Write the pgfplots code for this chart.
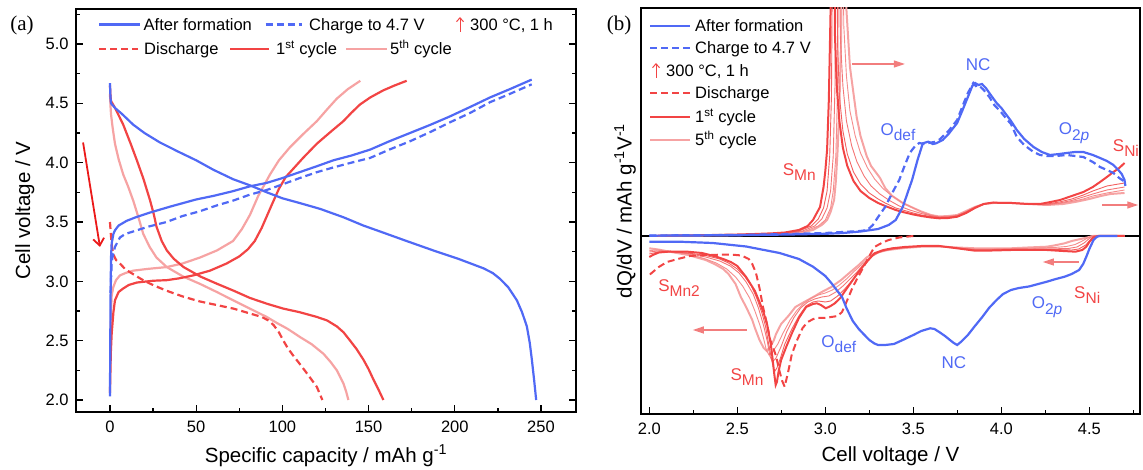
\documentclass[border=0pt]{standalone}
\usepackage{pgfplots}
\pgfplotsset{compat=1.18}
\usepackage{fontspec}
\setmainfont{Liberation Sans}
\newfontfamily\seriffont{Liberation Serif}
\usetikzlibrary{arrows.meta}
\definecolor{cblue}{RGB}{80,105,245}
\definecolor{cred}{RGB}{242,68,68}
\definecolor{cpink}{RGB}{246,163,163}
\definecolor{ctwo}{RGB}{243,96,96}
\definecolor{cthree}{RGB}{244,118,118}
\definecolor{cfour}{RGB}{245,140,140}
\definecolor{carrowa}{RGB}{235,25,25}
\definecolor{carrowb}{RGB}{242,125,125}
\newcommand{\lsub}[1]{\raisebox{-0.32em}{\fontsize{15.5}{16}\selectfont #1}}
\pgfplotsset{
  myaxis/.style={scale only axis, anchor=south west, clip mode=individual,
    tick align=inside, major tick length=7pt, minor tick length=4pt,
    axis line style={line width=1.3pt},
    tick style={black, line width=1.2pt},
    tick label style={font=\fontsize{16.5}{18}\selectfont},
    label style={font=\fontsize{20.5}{22}\selectfont},
    /pgf/number format/assume math mode=true,
    xticklabel style={yshift=-5.5pt},
    yticklabel style={xshift=-3.8pt},
  }
}
\begin{document}
\begin{tikzpicture}[x=1pt,y=1pt]
\useasboundingbox (0pt,0pt) rectangle (1143pt,470pt);
% ---------------- Panel (a) ----------------
\begin{axis}[myaxis, at={(76pt,58pt)}, width=500pt, height=403pt,
  xmin=-19.7, xmax=270.3, ymin=1.899, ymax=5.295,
  xtick={0,50,...,250}, minor xtick={25,75,...,275},
  ytick={2,2.5,...,5}, minor ytick={2.25,2.75,...,5.25},
  xtick pos=left, ytick pos=both,
  yticklabel style={/pgf/number format/.cd, fixed, fixed zerofill, precision=1},
  xlabel={Specific capacity / mAh g\textsuperscript{-1}},
  ylabel={Cell voltage / V},
  xlabel style={at={(axis description cs:0.5,-0.1241)}, anchor=base},
  ylabel style={at={(axis description cs:-0.092,0.5)}, anchor=base},
]
% 5th cycle (pink)
\addplot[cpink, line width=2.2pt] coordinates {(0.3,2.45) (0.6,2.75) (1.0,2.88) (1.9,2.95) (3.5,3.01) (5.8,3.05) (9,3.07) (13.5,3.09) (22,3.105) (32.8,3.12) (42,3.15) (52.1,3.20) (62,3.26) (71.4,3.34) (76.5,3.44) (81.2,3.56) (86,3.72) (92.8,3.90) (98,4.02) (104.4,4.13) (112,4.24) (120,4.35) (126,4.45) (131.6,4.54) (138,4.62) (145.2,4.69)};
\addplot[cpink, line width=2.2pt] coordinates {(0,4.58) (0.3,4.48) (0.6,4.41) (1.5,4.30) (2.9,4.16) (5,4.03) (7.7,3.90) (10.5,3.80) (13.5,3.68) (16.5,3.54) (19.3,3.40) (23,3.29) (27,3.20) (33,3.12) (42.5,3.04) (52,2.98) (62,2.91) (71.5,2.84) (81.2,2.77) (90.9,2.70) (96.7,2.65) (103,2.60) (110.3,2.53) (117,2.47) (123.8,2.39) (128,2.32) (131.6,2.25) (135.4,2.14) (137,2.07) (138.3,2.0)};
% 1st cycle (red)
\addplot[cred, line width=2.2pt] coordinates {(0,2.06) (0.5,2.4) (1,2.56) (2,2.74) (2.9,2.84) (5,2.91) (7.7,2.94) (11,2.97) (15.6,2.99) (25,3.005) (33,3.01) (40,3.025) (48.3,3.05) (58,3.09) (67.6,3.15) (75,3.21) (80,3.27) (84,3.34) (88,3.45) (91,3.55) (94,3.65) (98,3.78) (102,3.88) (106.4,3.95) (112,4.04) (120,4.16) (128,4.26) (135.4,4.35) (140,4.42) (145,4.49) (151,4.55) (158.6,4.61) (165,4.65) (172.1,4.69)};
\addplot[cred, line width=2.2pt] coordinates {(0,4.65) (0.3,4.56) (0.6,4.52) (3,4.46) (7.7,4.32) (12,4.16) (15.6,4.02) (19.5,3.86) (23.3,3.68) (25.5,3.56) (27,3.46) (30,3.34) (33,3.26) (37,3.19) (42.7,3.12) (52.5,3.04) (62,2.98) (71.9,2.92) (81.2,2.86) (91.3,2.81) (100.6,2.77) (110,2.74) (120,2.70) (126,2.67) (131.6,2.62) (135.5,2.57) (139.3,2.50) (143,2.43) (147,2.34) (150,2.26) (152.9,2.17) (156,2.08) (158.6,2.0)};
% Discharge (red dashed)
\addplot[cred, line width=2.2pt, dash pattern=on 7pt off 4pt] coordinates {(0,3.50) (0.5,3.40) (1.0,3.31) (1.9,3.23) (3.5,3.18) (5.8,3.15) (9,3.10) (13.5,3.06) (18,3.02) (23.3,2.98) (28,2.95) (33,2.92) (42.7,2.87) (52.3,2.83) (62,2.80) (71.7,2.77) (81,2.73) (88,2.70) (92,2.67) (95,2.63) (98,2.57) (100.6,2.50) (103,2.44) (106,2.38) (110.3,2.30) (115,2.21) (120,2.11) (123.2,2.0)};
% After formation (blue)
\addplot[cblue, line width=2.2pt] coordinates {(0,2.03) (0.3,2.8) (0.6,3.2) (1,3.32) (2,3.40) (2.9,3.43) (5,3.47) (9.7,3.51) (15,3.54) (23.3,3.58) (35,3.63) (50,3.69) (60,3.72) (71.4,3.76) (81,3.80) (91,3.83) (100,3.87) (110,3.92) (120,3.97) (129.6,4.02) (140,4.06) (150.9,4.11) (162,4.18) (174,4.25) (186,4.32) (197.2,4.39) (209,4.47) (220.5,4.55) (232,4.62) (244.6,4.70)};
\addplot[cblue, line width=2.2pt] coordinates {(0,4.67) (0.3,4.55) (0.6,4.50) (3,4.46) (7,4.41) (13.5,4.32) (20,4.25) (29,4.17) (40,4.09) (50,4.02) (60,3.94) (71.5,3.86) (81,3.81) (91,3.75) (100,3.70) (110,3.66) (122,3.61) (135.4,3.54) (147,3.47) (158.6,3.41) (172,3.34) (187.6,3.26) (202,3.19) (216.6,3.11) (222,3.07) (226.3,3.02) (231,2.95) (236,2.84) (239,2.74) (241.8,2.62) (243.5,2.48) (244.7,2.34) (246,2.17) (247.2,2.0)};
% Charge to 4.7 V (blue dashed)
\addplot[cblue, line width=2.2pt, dash pattern=on 7pt off 4pt] coordinates {(0.3,2.9) (1.0,3.15) (1.4,3.20) (2.9,3.29) (5.8,3.37) (9,3.40) (13.5,3.42) (22,3.46) (32.8,3.50) (42,3.55) (52,3.59) (62,3.64) (71.4,3.68) (81,3.73) (91,3.77) (100.6,3.82) (110,3.87) (120,3.92) (129.6,3.96) (140,4.00) (150.9,4.04) (162,4.11) (174,4.18) (186,4.26) (197.2,4.34) (209,4.42) (220.5,4.51) (232,4.58) (244.6,4.66)};
\draw[carrowa, line width=1.8pt, -{Straight Barb[length=7pt,width=11pt]}] (axis cs:-15.6,4.17) -- (axis cs:-5.8,3.29);
\end{axis}
% ---------------- Panel (b) ----------------
\begin{axis}[myaxis, at={(641pt,56pt)}, width=499pt, height=406pt,
  xmin=1.9528, xmax=4.788, ymin=-178, ymax=228,
  xtick={2,2.5,...,4.5}, minor xtick={2.25,2.75,...,4.75},
  ytick=\empty, xtick pos=left,
  xticklabel style={/pgf/number format/.cd, fixed, fixed zerofill, precision=1},
  xlabel={Cell voltage / V},
  ylabel={dQ/dV / mAh g\textsuperscript{-1}V\textsuperscript{-1}},
  xlabel style={at={(axis description cs:0.5,-0.1182)}, anchor=base},
  ylabel style={at={(axis description cs:-0.019,0.5)}, anchor=base},
]
\addplot[black, line width=1.2pt] coordinates {(1.9528,0) (4.788,0)};
% ---- charge (top) ----
\addplot[cpink, line width=2pt] coordinates {(2.05,0.2) (2.4,0.6) (2.6,1.2) (2.75,2) (2.85,3) (2.93,6) (2.98,11) (3.01,16) (3.03,24) (3.05,36) (3.06,55) (3.07,86) (3.08,130) (3.09,200) (3.10,400) (3.11,400) (3.12,226) (3.14,169) (3.178,119) (3.20,100) (3.235,80) (3.26,70) (3.311,58) (3.34,48) (3.38,40) (3.44,33) (3.50,28) (3.545,24.5) (3.60,21) (3.647,19.5) (3.70,20) (3.75,21) (3.80,25) (3.85,29) (3.90,32) (3.955,33) (4.06,33) (4.15,32) (4.26,31) (4.35,32) (4.42,34) (4.50,37) (4.565,40) (4.62,42) (4.70,43)};
\addplot[cfour, line width=0.9pt] coordinates {(2.05,0.2) (2.5,1) (2.7,1.8) (2.8,2.7) (2.89,5) (2.96,10) (3.00,16) (3.03,28) (3.045,45) (3.06,80) (3.07,150) (3.08,400) (3.095,400) (3.105,210) (3.12,160) (3.14,125) (3.17,100) (3.20,83) (3.24,68) (3.28,57) (3.33,47) (3.38,40) (3.44,33) (3.50,28) (3.545,24) (3.60,20.8) (3.647,19.3) (3.70,19.6) (3.75,20.7) (3.80,24.5) (3.85,29) (3.90,32) (3.955,33.2) (4.06,33) (4.15,32) (4.26,31) (4.33,32.5) (4.40,34.5) (4.466,37) (4.52,40) (4.60,43) (4.70,46)};
\addplot[cthree, line width=0.9pt] coordinates {(2.04,0.2) (2.45,0.9) (2.65,1.7) (2.78,2.7) (2.87,5) (2.94,10) (2.98,17) (3.01,28) (3.03,45) (3.045,80) (3.055,150) (3.065,400) (3.075,400) (3.085,200) (3.10,150) (3.12,115) (3.15,90) (3.18,74) (3.22,60) (3.26,50) (3.31,42) (3.36,36) (3.42,30) (3.48,26) (3.545,22.5) (3.60,20.3) (3.647,19) (3.70,19.2) (3.75,20.3) (3.80,24) (3.85,28.7) (3.90,32) (3.955,33.3) (4.06,33) (4.15,32) (4.26,31.5) (4.33,33) (4.40,35.5) (4.466,39) (4.52,42) (4.60,46) (4.70,49)};
\addplot[ctwo, line width=0.9pt] coordinates {(2.04,0.2) (2.4,0.8) (2.6,1.6) (2.75,2.7) (2.85,5) (2.92,10) (2.96,17) (2.99,28) (3.01,45) (3.025,80) (3.035,140) (3.045,400) (3.06,400) (3.07,190) (3.08,140) (3.10,105) (3.125,82) (3.16,64) (3.20,52) (3.25,43) (3.30,37) (3.34,33) (3.40,28) (3.44,26) (3.50,23) (3.545,21) (3.60,19.5) (3.647,18.5) (3.70,18.7) (3.75,20) (3.80,24) (3.85,28.5) (3.90,32) (3.955,33.5) (4.06,33) (4.15,32) (4.26,32) (4.33,34) (4.40,37) (4.466,41) (4.52,45) (4.60,50) (4.70,53)};
\addplot[cred, line width=2pt] coordinates {(2.03,0.2) (2.3,0.8) (2.5,1.5) (2.6,2) (2.7,2.7) (2.77,3.5) (2.85,6) (2.90,10) (2.93,16) (2.97,29) (2.99,49) (3.00,65) (3.01,86) (3.02,136) (3.03,226) (3.035,400) (3.045,400) (3.055,200) (3.065,150) (3.08,115) (3.10,88) (3.125,70) (3.16,55) (3.20,45) (3.25,38) (3.30,33) (3.34,30) (3.40,26) (3.44,24) (3.50,21.5) (3.545,20) (3.60,18.5) (3.647,17.7) (3.70,18) (3.75,19.3) (3.80,23) (3.85,28) (3.90,32) (3.955,33.5) (4.0,33) (4.06,33) (4.15,32) (4.22,32) (4.28,34) (4.334,36) (4.40,40) (4.466,44) (4.52,49) (4.561,54) (4.60,59) (4.637,64) (4.67,68) (4.70,73)};
\addplot[cblue, line width=2.2pt, dash pattern=on 7pt off 4pt] coordinates {(2.0,0.5) (2.5,1) (2.8,2) (3.0,3) (3.1,4) (3.2,5) (3.239,6) (3.27,11) (3.30,19) (3.34,29) (3.38,43) (3.42,56) (3.45,70) (3.48,83) (3.51,90) (3.534,93) (3.56,92) (3.585,93) (3.62,94) (3.646,96) (3.70,105) (3.749,116) (3.78,130) (3.810,143) (3.841,153) (3.855,150) (3.871,151) (3.90,146) (3.932,139) (3.96,131) (3.993,125) (4.03,117) (4.055,112) (4.088,99) (4.13,91) (4.183,84) (4.22,81) (4.258,80) (4.31,80) (4.372,81) (4.42,80) (4.466,79) (4.52,74) (4.561,69) (4.60,66) (4.637,63) (4.67,58) (4.703,54)};
\addplot[cblue, line width=2.2pt] coordinates {(2.0,0.3) (2.5,0.8) (2.8,1.5) (3.0,2.2) (3.1,3) (3.2,4.5) (3.3,7) (3.36,11) (3.40,16) (3.44,29) (3.473,46) (3.493,56) (3.524,76) (3.554,92.7) (3.585,94.3) (3.61,92) (3.63,92.7) (3.667,96) (3.70,102) (3.749,113) (3.78,126) (3.81,139) (3.835,150) (3.851,153) (3.87,151) (3.89,152) (3.912,148) (3.94,141) (3.973,133) (4.0,128) (4.055,115) (4.088,106) (4.13,97) (4.183,89) (4.23,84) (4.277,81) (4.33,82) (4.372,83) (4.42,84) (4.466,84) (4.52,81) (4.561,78) (4.60,75) (4.637,71) (4.665,66) (4.684,62) (4.70,56) (4.705,50)};
% ---- discharge (bottom) ----
\addplot[cpink, line width=2pt] coordinates {(4.70,0) (4.52,0) (4.50,-1) (4.463,-2.5) (4.40,-5) (4.36,-7.3) (4.30,-9.5) (4.259,-10.7) (4.15,-11.5) (4.055,-12.3) (3.95,-12.5) (3.85,-12.3) (3.75,-11.5) (3.65,-10.5) (3.545,-10.7) (3.45,-12) (3.40,-13) (3.34,-14.5) (3.29,-17) (3.238,-21) (3.19,-29) (3.136,-37) (3.09,-44) (3.034,-51) (2.98,-56) (2.932,-61) (2.88,-66) (2.83,-71) (2.79,-80) (2.749,-88) (2.72,-98) (2.708,-104) (2.69,-110) (2.667,-115) (2.65,-112) (2.626,-104) (2.60,-92) (2.585,-84) (2.55,-71) (2.52,-61) (2.49,-48) (2.45,-38) (2.42,-33) (2.37,-28) (2.32,-24) (2.22,-19) (2.116,-15.7) (2.05,-13.5) (2.0,-12.3)};
\addplot[cfour, line width=0.9pt] coordinates {(4.70,0) (4.51,0) (4.49,-2) (4.46,-5) (4.42,-8.5) (4.37,-10.5) (4.30,-11.5) (4.15,-12.3) (4.055,-12.8) (3.95,-13) (3.85,-13) (3.75,-11.8) (3.65,-10.4) (3.545,-10.5) (3.45,-11.8) (3.36,-13.8) (3.30,-16.5) (3.25,-22) (3.21,-28) (3.16,-36) (3.12,-43) (3.08,-49) (3.04,-54) (3.0,-57) (2.96,-59) (2.92,-62) (2.88,-67) (2.84,-74) (2.80,-84) (2.76,-97) (2.73,-108) (2.70,-116) (2.68,-119) (2.665,-114) (2.65,-103) (2.63,-90) (2.60,-75) (2.57,-62) (2.53,-50) (2.49,-41) (2.44,-33) (2.38,-27) (2.32,-23) (2.22,-18) (2.12,-15.5) (2.05,-14) (2.0,-14.5)};
\addplot[cthree, line width=0.9pt] coordinates {(4.70,0) (4.52,0) (4.50,-2.5) (4.47,-7) (4.43,-11) (4.38,-12.5) (4.30,-12.8) (4.15,-13) (4.055,-13) (3.95,-13.5) (3.85,-13.5) (3.75,-12) (3.65,-10.3) (3.545,-10.3) (3.45,-11.5) (3.37,-13.3) (3.31,-16) (3.26,-21) (3.22,-28) (3.18,-36) (3.14,-43) (3.10,-50) (3.06,-56) (3.02,-60) (2.98,-61) (2.94,-63) (2.90,-66) (2.86,-72) (2.82,-82) (2.78,-96) (2.75,-110) (2.72,-122) (2.70,-126) (2.685,-120) (2.67,-105) (2.65,-90) (2.62,-72) (2.59,-58) (2.55,-46) (2.51,-37) (2.46,-30) (2.40,-25) (2.32,-21) (2.22,-17.5) (2.12,-15.5) (2.05,-15) (2.0,-16)};
\addplot[ctwo, line width=0.9pt] coordinates {(4.70,0) (4.53,0) (4.51,-3) (4.48,-9) (4.44,-13) (4.40,-14) (4.30,-13.5) (4.15,-13.5) (4.055,-13.5) (3.95,-14) (3.85,-14) (3.75,-12) (3.65,-10.2) (3.545,-10.2) (3.45,-11.3) (3.38,-12.8) (3.32,-15) (3.27,-19) (3.23,-27) (3.19,-36) (3.15,-45) (3.11,-53) (3.07,-60) (3.03,-65) (3.0,-66) (2.96,-65) (2.93,-66) (2.89,-70) (2.85,-80) (2.81,-93) (2.77,-108) (2.745,-122) (2.725,-132) (2.71,-136) (2.70,-128) (2.68,-110) (2.66,-90) (2.64,-77) (2.61,-62) (2.58,-50) (2.54,-40) (2.50,-33) (2.45,-27) (2.40,-23) (2.32,-19.5) (2.22,-17) (2.12,-16) (2.05,-16) (2.0,-18)};
\addplot[cred, line width=2pt, dash pattern=on 7pt off 4pt] coordinates {(3.50,0) (3.42,-1.5) (3.36,-4) (3.32,-7) (3.279,-11) (3.25,-20) (3.217,-31) (3.186,-41) (3.156,-51) (3.125,-64) (3.095,-76) (3.07,-80) (3.034,-81) (3.0,-82) (2.96,-82) (2.932,-83) (2.90,-86) (2.871,-92) (2.84,-104) (2.81,-118) (2.79,-135) (2.769,-150.7) (2.755,-145) (2.738,-134) (2.72,-120) (2.70,-110) (2.687,-104) (2.666,-86) (2.646,-71) (2.626,-52) (2.606,-37) (2.585,-28) (2.565,-23) (2.524,-19.5) (2.46,-18.5) (2.32,-19) (2.23,-20) (2.177,-22.3) (2.10,-26) (2.054,-31) (2.02,-36) (2.0,-39)};
\addplot[cred, line width=2pt] coordinates {(4.70,0) (4.55,0) (4.524,-1.3) (4.50,-6) (4.483,-10.7) (4.46,-14) (4.422,-15.7) (4.35,-15) (4.259,-14) (4.15,-14) (4.055,-14) (3.95,-14.5) (3.851,-14.7) (3.80,-13.5) (3.749,-12.3) (3.647,-10) (3.544,-10) (3.45,-11) (3.381,-12.3) (3.33,-14) (3.279,-17.3) (3.24,-25) (3.197,-34) (3.156,-44) (3.116,-54) (3.085,-62) (3.054,-67.3) (3.03,-70) (3.003,-72.3) (2.975,-69) (2.952,-67.3) (2.93,-68) (2.891,-71) (2.85,-82) (2.81,-97.3) (2.78,-110) (2.749,-124) (2.735,-135) (2.725,-146) (2.718,-149) (2.71,-138) (2.70,-122) (2.69,-108) (2.67,-89) (2.65,-77) (2.626,-66) (2.60,-55) (2.55,-41) (2.50,-30) (2.463,-26) (2.42,-23) (2.381,-20.7) (2.30,-17) (2.218,-15.7) (2.12,-15.5) (2.054,-16.5) (2.02,-19) (2.0,-21)};
\addplot[cblue, line width=2.2pt] coordinates {(4.66,0) (4.56,0) (4.544,-0.7) (4.524,-4) (4.50,-13) (4.483,-20.7) (4.465,-28) (4.442,-34) (4.40,-38) (4.36,-40.7) (4.31,-43) (4.259,-45.7) (4.21,-48) (4.157,-50.5) (4.10,-52) (4.055,-54) (4.01,-58) (3.973,-64) (3.93,-72) (3.892,-81) (3.85,-90) (3.81,-99) (3.77,-106) (3.749,-109) (3.73,-107) (3.708,-104) (3.68,-100) (3.647,-96) (3.62,-93) (3.596,-92.3) (3.545,-95) (3.50,-99) (3.44,-104) (3.39,-108) (3.34,-109) (3.30,-109) (3.279,-107.5) (3.25,-104) (3.217,-98) (3.19,-93) (3.156,-85) (3.12,-72) (3.095,-61) (3.06,-53) (3.034,-47) (3.0,-40) (2.93,-30.7) (2.85,-23) (2.74,-17) (2.55,-10.5) (2.36,-7) (2.17,-5.7) (2.0,-5.7)};
% arrows
\draw[carrowb, line width=1.3pt, -{Triangle[length=11pt,width=7pt]}] (axis cs:3.151,172) -- (axis cs:3.452,172);
\draw[carrowb, line width=1.3pt, -{Triangle[length=11pt,width=7pt]}] (axis cs:4.573,31) -- (axis cs:4.778,31);
\draw[carrowb, line width=1.3pt, -{Triangle[length=11pt,width=7pt]}] (axis cs:4.44,-26) -- (axis cs:4.236,-26);
\draw[carrowb, line width=1.3pt, -{Triangle[length=11pt,width=7pt]}] (axis cs:2.555,-94) -- (axis cs:2.247,-94);
% annotations
\begin{scope}[every node/.style={font=\fontsize{17}{18}\selectfont, inner sep=0}]
\node[text=cred] at (axis cs:2.852,64) {S\lsub{Mn}};
\node[text=cblue] at (axis cs:3.413,104) {O\lsub{def}};
\node[text=cblue] at (axis cs:3.868,171) {NC};
\node[text=cblue] at (axis cs:4.413,103) {O\lsub{2\textit{p}}};
\node[text=cred] at (axis cs:4.708,88) {S\lsub{Ni}};
\node[text=cred] at (axis cs:2.169,-52) {S\lsub{Mn2}};
\node[text=cblue] at (axis cs:3.077,-108) {O\lsub{def}};
\node[text=cblue] at (axis cs:3.731,-127) {NC};
\node[text=cblue] at (axis cs:4.26,-71) {O\lsub{2\textit{p}}};
\node[text=cred] at (axis cs:4.488,-59) {S\lsub{Ni}};
\node[text=cred] at (axis cs:2.555,-141) {S\lsub{Mn}};
\end{scope}
\end{axis}
% ---------------- legends and panel letters ----------------
\begin{scope}[every node/.style={font=\fontsize{16.5}{18}\selectfont, inner sep=0, anchor=base west}]
% panel (a)
\draw[cblue, line width=2.2pt] (99pt,445.5pt) -- (140pt,445.5pt);
\node at (143.5pt,439.6pt) {After formation};
\draw[cblue, line width=2.2pt, dash pattern=on 7pt off 4pt] (265.6pt,445.5pt) -- (302pt,445.5pt);
\node at (309pt,439.6pt) {Charge to 4.7 V};
\draw[cred, line width=1pt, -{Straight Barb[length=4pt,width=7pt]}] (460pt,438pt) -- (460pt,453pt);
\node at (470pt,439.6pt) {300 °C, 1 h};
\draw[cred, line width=2.2pt, dash pattern=on 7pt off 4pt] (99pt,421pt) -- (138pt,421pt);
\node at (144pt,415.1pt) {Discharge};
\draw[cred, line width=2.2pt] (230pt,421pt) -- (269pt,421pt);
\node at (276pt,415.1pt) {1\textsuperscript{st} cycle};
\draw[cpink, line width=2.2pt] (346pt,421pt) -- (387pt,421pt);
\node at (390pt,415.1pt) {5\textsuperscript{th} cycle};
% panel (b)
\draw[cblue, line width=2.2pt] (650pt,444pt) -- (690pt,444pt);
\node at (695pt,438pt) {After formation};
\draw[cblue, line width=2.2pt, dash pattern=on 7pt off 4pt] (650pt,422pt) -- (691pt,422pt);
\node at (695pt,416pt) {Charge to 4.7 V};
\draw[cred, line width=1pt, -{Straight Barb[length=4pt,width=7pt]}] (656pt,392pt) -- (656pt,407pt);
\node at (666pt,393pt) {300 °C, 1 h};
\draw[cred, line width=2.2pt, dash pattern=on 7pt off 4pt] (650pt,377pt) -- (691pt,377pt);
\node at (695pt,371pt) {Discharge};
\draw[cred, line width=2.2pt] (650pt,353pt) -- (690pt,353pt);
\node at (695pt,347pt) {1\textsuperscript{st} cycle};
\draw[cpink, line width=2.2pt] (650pt,330pt) -- (690pt,330pt);
\node at (695pt,324pt) {5\textsuperscript{th} cycle};
\end{scope}
\node[font=\seriffont\fontsize{21}{22}\selectfont, inner sep=0] at (22pt,445pt) {(a)};
\node[font=\seriffont\fontsize{21}{22}\selectfont, inner sep=0] at (619pt,445pt) {(b)};
\end{tikzpicture}
\end{document}
